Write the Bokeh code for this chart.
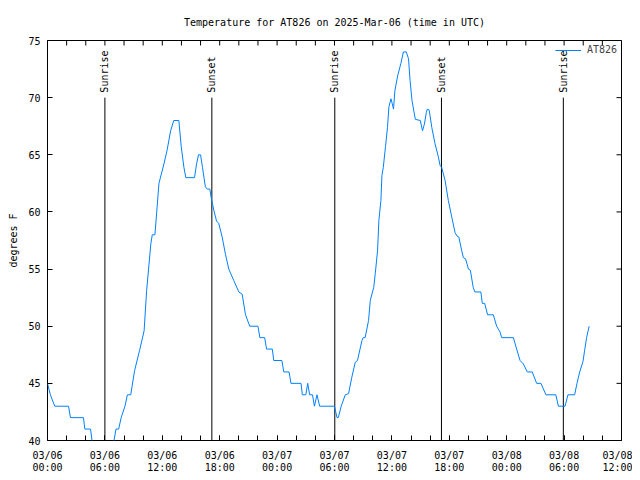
import math
from bokeh.plotting import figure
from bokeh.models import FixedTicker, LinearAxis, Range1d, Legend, LegendItem, Title
from bokeh.embed import file_html
from bokeh.resources import INLINE

# Hours since 2025-03-06 00:00 UTC and temperature (degrees F)
hours = [0.0, 0.3, 0.76, 2.2, 2.4, 3.76, 3.9, 4.5, 4.65, 5.0, 6.0, 6.6, 6.95, 7.16, 7.44,
         7.7, 8.1, 8.35, 8.7, 9.1, 9.63, 10.1, 10.36, 10.8, 10.95, 11.23, 11.54, 11.65,
         12.17, 12.5, 12.87, 13.2, 13.73, 13.98, 14.26, 14.46, 15.37, 15.58, 15.79, 16.0,
         16.2, 16.5, 16.7, 16.97, 17.1, 17.4, 17.67, 17.9, 18.26, 18.6, 18.95, 19.47, 20.0,
         20.35, 20.7, 21.14, 22.0, 22.2, 22.7, 22.9, 23.5, 23.65, 24.5, 24.7, 25.25, 25.45,
         26.5, 26.64, 27.0, 27.2, 27.4, 27.7, 27.9, 28.17, 28.45, 30.0, 30.26, 30.4, 30.7,
         31.13, 31.47, 31.8, 32.17, 32.4, 32.87, 33.0, 33.2, 33.56, 33.74, 34.1, 34.26,
         34.5, 34.64, 34.85, 34.96, 35.1, 35.33, 35.54, 35.69, 35.9, 36.03, 36.17, 36.31,
         36.6, 36.94, 37.2, 37.5, 37.74, 37.9, 38.1, 38.45, 38.97, 39.2, 39.4, 39.6, 39.7,
         39.9, 40.17, 40.5, 40.86, 41.04, 41.2, 41.56, 41.9, 42.27, 42.6, 42.8, 43.0, 43.3,
         43.47, 43.7, 44.0, 44.2, 44.5, 44.67, 45.3, 45.45, 45.7, 46.0, 46.6, 46.95, 47.3,
         47.47, 48.7, 49.04, 49.4, 49.74, 50.15, 50.67, 51.13, 51.58, 52.1, 53.14, 53.4,
         54.1, 54.4, 55.1, 55.35, 55.63, 55.97, 56.15, 56.35, 56.62]
temps = [45.0, 44.0, 43.0, 43.0, 42.0, 42.0, 41.0, 41.0, 40.0, 39.0, 38.5, 39.0, 40.0, 41.0, 41.0,
         42.0, 43.0, 44.0, 44.0, 46.1, 47.9, 49.6, 53.1, 57.2, 58.0, 58.0, 61.3, 62.5,
         64.2, 65.4, 67.1, 68.0, 68.0, 65.7, 63.9, 63.0, 63.0, 64.2, 65.0, 65.0,
         63.9, 62.2, 62.0, 62.0, 61.3, 60.1, 59.2, 59.0, 57.8, 56.3, 55.0, 54.0, 53.0,
         52.8, 51.0, 50.0, 50.0, 49.0, 49.0, 48.0, 48.0, 47.0, 47.0, 46.0, 46.0, 45.0,
         45.0, 44.0, 44.0, 45.0, 44.0, 44.0, 43.0, 44.0, 43.0, 43.0, 42.0, 42.0, 43.0,
         44.0, 44.1, 45.5, 46.85, 47.0, 48.75, 49.0, 49.0, 50.5, 52.25, 53.4, 54.6,
         56.6, 59.25, 61.0, 63.2, 63.9, 65.7, 67.4, 69.2, 69.9, 69.5, 69.0, 70.6,
         71.9, 73.0, 74.0, 74.0, 73.4, 71.5, 69.75, 68.1, 68.0, 67.1, 67.7, 68.7, 69.0,
         68.9, 67.4, 66.0, 64.8, 64.06, 63.9, 62.75, 61.0, 59.5, 58.2, 57.9, 57.8, 56.6,
         56.0, 55.9, 55.0, 54.9, 53.4, 53.0, 53.0, 52.0, 52.0, 51.0, 51.0, 50.0, 49.5,
         49.0, 49.0, 48.0, 47.0, 46.7, 46.0, 46.0, 45.0, 45.0, 44.0, 44.0, 43.0,
         43.0, 44.0, 44.0, 45.0, 46.0, 46.9, 47.9, 49.0, 50.0]

# Sunrise / sunset events (hours since 03/06 00:00 UTC)
event_hours = [6.0, 17.18, 30.03, 41.18, 53.92]
event_labels = ["Sunrise", "Sunset", "Sunrise", "Sunset", "Sunrise"]

# Axis ticks
x_major = [0, 6, 12, 18, 24, 30, 36, 42, 48, 54, 60]
x_minor = list(range(0, 61, 2))
x_tick_labels = ["03/06\n00:00", "03/06\n06:00", "03/06\n12:00", "03/06\n18:00",
                 "03/07\n00:00", "03/07\n06:00", "03/07\n12:00", "03/07\n18:00",
                 "03/08\n00:00", "03/08\n06:00", "03/08\n12:00"]
y_major = [40, 45, 50, 55, 60, 65, 70, 75]

FONT = "DejaVu Sans Mono"
FS = "10px"
LINE_COLOR = "#0080ff"

x_lo, x_hi = 0, 60
y_lo, y_hi = 40, 75

p = figure(width=632, height=475, output_backend="svg", toolbar_location=None,
           x_range=Range1d(x_lo, x_hi), y_range=Range1d(y_lo, y_hi),
           x_axis_location=None, y_axis_location=None,
           min_border_left=47, min_border_right=11, min_border_top=40, min_border_bottom=32)
p.grid.visible = False
p.outline_line_color = "black"
p.outline_line_width = 1
p.background_fill_color = "white"
p.border_fill_color = "white"

p.title = Title(text="Temperature for AT826 on 2025-Mar-06 (time in UTC)", align="center",
                text_font=FONT, text_font_size=FS, text_font_style="normal", text_color="black",
                standoff=26)

def style_axis(ax, ticker):
    ax.ticker = ticker
    ax.axis_line_color = None
    ax.major_tick_in = 5
    ax.major_tick_out = 0
    ax.minor_tick_in = 5
    ax.minor_tick_out = 0
    ax.major_tick_line_color = "black"
    ax.minor_tick_line_color = "black"
    ax.major_label_text_font = FONT
    ax.major_label_text_font_size = FS
    ax.major_label_text_color = "black"

xt = FixedTicker(ticks=x_major, minor_ticks=x_minor)
yt = FixedTicker(ticks=y_major, minor_ticks=[])

xb = LinearAxis()
style_axis(xb, xt)
xb.major_label_overrides = {t: lab for t, lab in zip(x_major, x_tick_labels)}
xb.major_label_standoff = 9
xb.major_label_text_line_height = 1.1
p.add_layout(xb, "below")

yl = LinearAxis(axis_label="degrees F")
style_axis(yl, yt)
yl.major_label_standoff = 7
yl.axis_label_text_font = FONT
yl.axis_label_text_font_size = FS
yl.axis_label_text_font_style = "normal"
yl.axis_label_text_color = "black"
yl.axis_label_standoff = 6
p.add_layout(yl, "left")

# Mirrored tick marks on the top and right borders (half of each dash is clipped by the frame)
p.scatter(x=x_minor, y=[y_hi] * len(x_minor), marker="dash", angle=math.pi / 2, size=10,
          line_color="black", line_width=1)
p.scatter(x=[x_hi] * len(y_major), y=y_major, marker="dash", size=10,
          line_color="black", line_width=1)

# Sunrise / sunset markers: lines from the bottom up to 6/7 of the graph height
y_mark_top = y_lo + (y_hi - y_lo) * 6.0 / 7.0
p.segment(x0=event_hours, y0=[y_lo] * len(event_hours), x1=event_hours,
          y1=[y_mark_top] * len(event_hours), line_color="black", line_width=1)
p.text(x=event_hours, y=[y_mark_top] * len(event_hours), text=event_labels,
       angle=math.pi / 2, text_align="left", text_baseline="middle", y_offset=-5,
       text_font={"value": FONT}, text_font_size={"value": FS}, text_color="black")

r = p.line(hours, temps, line_color=LINE_COLOR, line_width=1)

legend = Legend(items=[LegendItem(label="AT826", renderers=[r])], location="top_right",
                border_line_color=None, background_fill_alpha=0,
                label_text_font=FONT, label_text_font_size=FS,
                glyph_width=26, glyph_height=10, padding=2, margin=4, spacing=0,
                label_standoff=6)
p.add_layout(legend)

open("out.html", "w").write(file_html(p, INLINE))
